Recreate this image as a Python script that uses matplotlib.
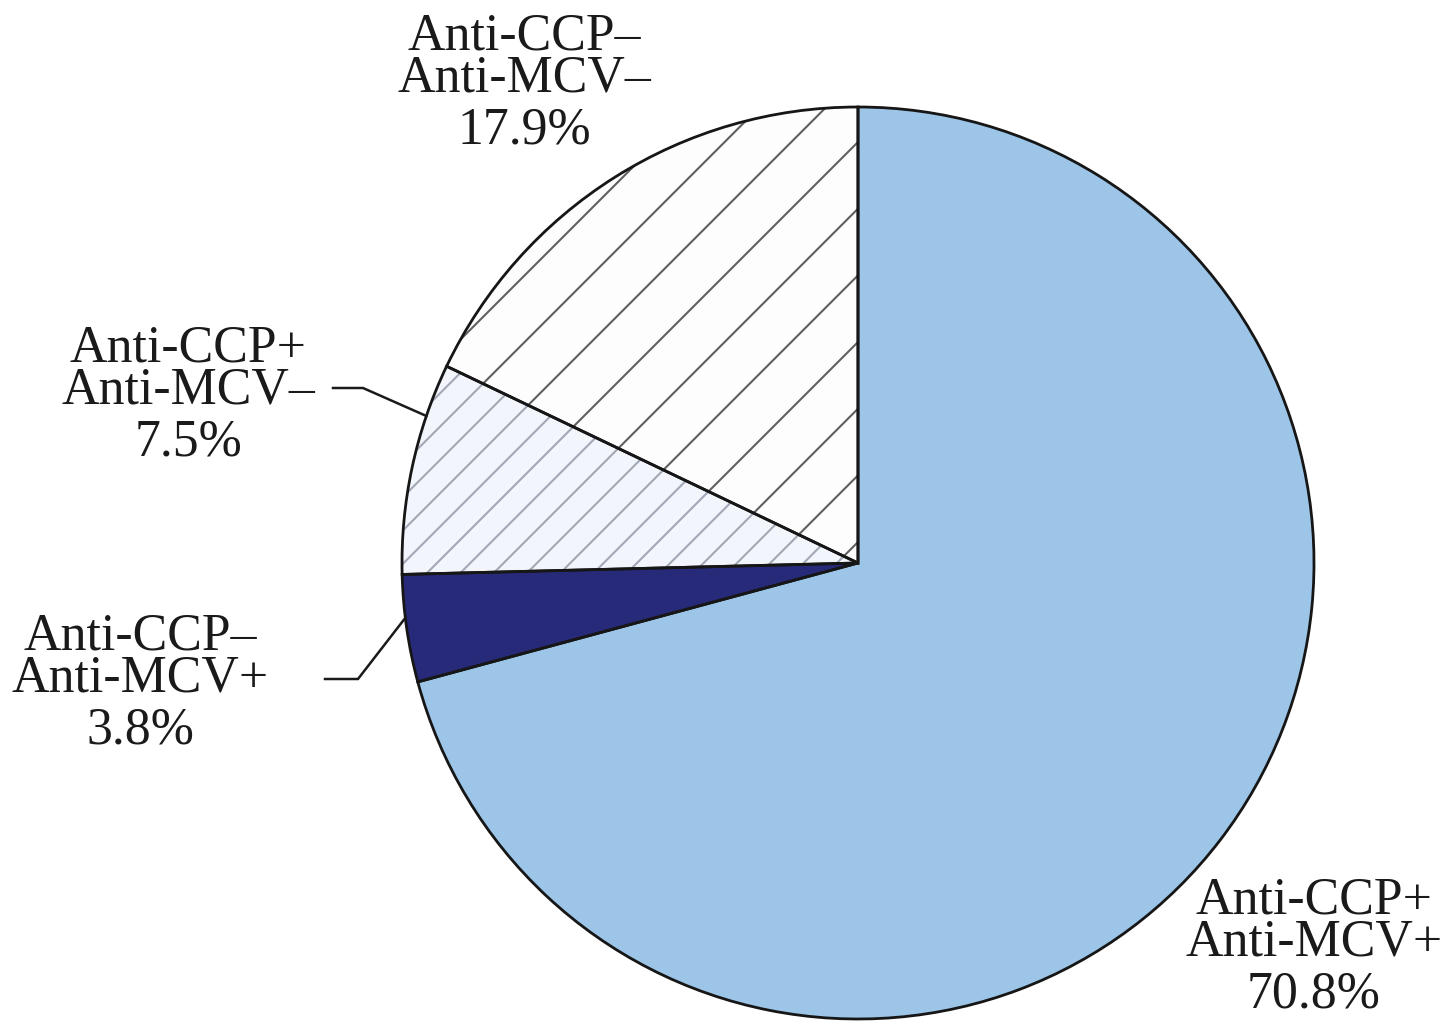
import numpy as np
import matplotlib
matplotlib.use("Agg")
import matplotlib.pyplot as plt
from matplotlib.patches import Wedge

# Antibody status groups, counter-clockwise from 12 o'clock
labels = ["Anti-CCP\u2013\nAnti-MCV\u2013",
          "Anti-CCP+\nAnti-MCV\u2013",
          "Anti-CCP\u2013\nAnti-MCV+",
          "Anti-CCP+\nAnti-MCV+"]
percents = [17.9, 7.5, 3.8, 70.8]

fills = ["#fdfdfe", "#f2f5fb", "#272a78", "#9cc5e8"]
hatches = ["/", "//", None, None]
hatch_colors = ["#5f5f5f", "#a3a8b6", None, None]

plt.rcParams["font.family"] = ["Liberation Serif", "DejaVu Serif"]
plt.rcParams["hatch.linewidth"] = 0.75

DPI = 200
W, H = 1451, 1025
CX, CY, R = 858, 563, 456   # pie centre and radius in pixels


def px(x, y):
    """Pixel position -> data coordinates (pie radius = 1)."""
    return (x - CX) / R, (CY - y) / R


fig = plt.figure(figsize=(W / DPI, H / DPI), dpi=DPI)
ax = fig.add_axes([0, 0, 1, 1])

wedges, _ = ax.pie(percents, startangle=90, counterclock=True, radius=1,
                   colors=fills, wedgeprops=dict(edgecolor="none", linewidth=0))

# hatching drawn separately so the outline stays black
for w, h, hc in zip(wedges, hatches, hatch_colors):
    if h:
        ax.add_patch(Wedge((0, 0), 1, w.theta1, w.theta2, facecolor="none",
                           edgecolor=hc, linewidth=0, hatch=h, zorder=2))
for w in wedges:
    ax.add_patch(Wedge((0, 0), 1, w.theta1, w.theta2, facecolor="none",
                       edgecolor="#161616", linewidth=1.0, zorder=3))

# one text per line: (centre x, first baseline y) in pixels
label_pos = [(524, 50), (188, 362), (140, 650), (1314, 913)]
line_offsets = [0, 42, 94]
for lab, p, (x, y) in zip(labels, percents, label_pos):
    lines = lab.split("\n") + [f"{p}%"]
    for line, o in zip(lines, line_offsets):
        tx, ty = px(x, y + o)
        ax.text(tx, ty, line, ha="center", va="baseline", fontsize=18.7,
                color="#1a1a1a")

# leader lines for the two small slices: (slice index, fraction along slice, elbow, end)
leaders = [(1, 0.25, (363, 388), (333, 388)),
           (2, 0.40, (358, 679), (325, 679))]
for i, frac, elbow, end in leaders:
    w = wedges[i]
    ang = np.deg2rad(w.theta1 + frac * (w.theta2 - w.theta1))
    tip = (np.cos(ang), np.sin(ang))
    ex, ey = px(*elbow)
    nx, ny = px(*end)
    ax.plot([nx, ex, tip[0]], [ny, ey, tip[1]], color="#1a1a1a", lw=0.9,
            solid_joinstyle="miter", zorder=4)

ax.set_xlim((0 - CX) / R, (W - CX) / R)
ax.set_ylim((CY - H) / R, CY / R)
ax.set_aspect("equal")
ax.axis("off")

fig.savefig("out.png", dpi=DPI, facecolor="white")
